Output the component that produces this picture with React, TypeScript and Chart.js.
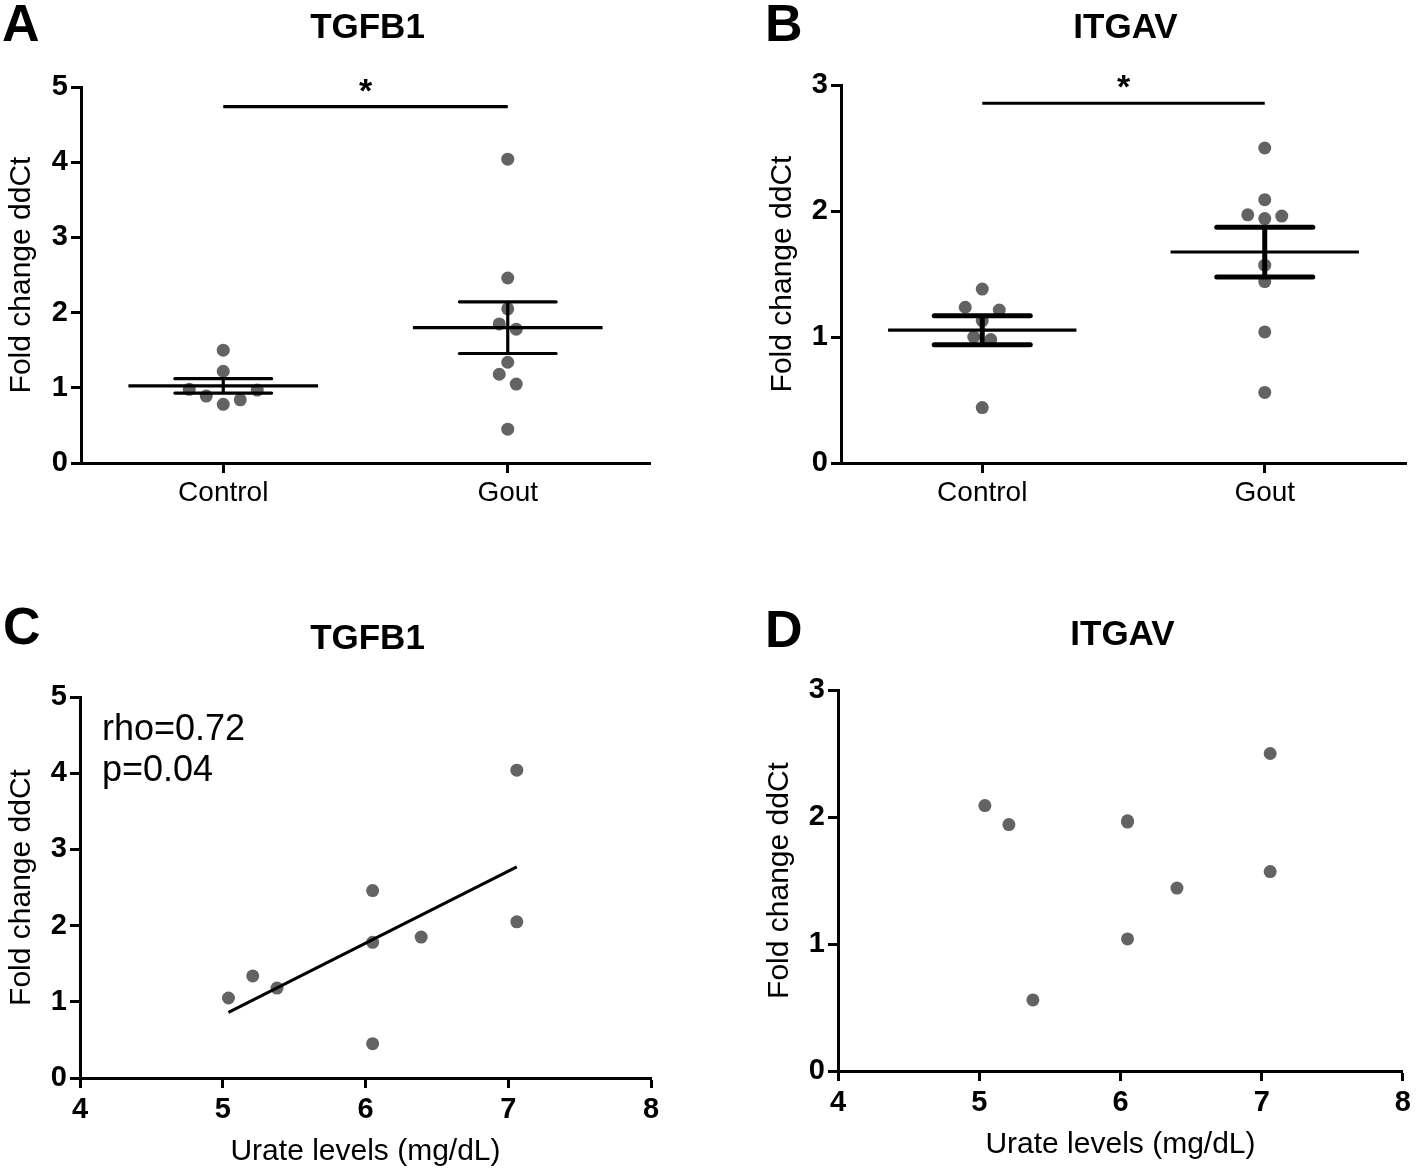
import React, { useEffect, useRef } from 'react';
import { Chart, registerables } from 'chart.js';

Chart.register(...registerables);

const FONT = '"Liberation Sans", Arial, Helvetica, sans-serif';
const TICK_FONT = '"Liberation Sans Narrow", "Liberation Sans", Arial, sans-serif';

// ---------------- data ----------------
const groupLabels = ['Control', 'Gout'];
const tgfb1Control = [1.5, 1.22, 0.98, 0.89, 0.78, 0.84, 0.97];
const tgfb1Gout = [4.04, 2.46, 2.05, 1.85, 1.78, 1.34, 1.18, 1.05, 0.45];
const itgavControl = [1.38, 1.236, 1.214, 1.13, 1.0, 0.98, 0.44];
const itgavGout = [2.5, 2.09, 1.97, 1.96, 1.94, 1.57, 1.44, 1.04, 0.56];
// urate level of each gout patient, in the same order as the gene values
const urateForTgfb1 = [7.06, 6.05, 7.06, 6.39, 6.05, 5.21, 5.38, 5.04, 6.05];
const urateForItgav = [7.06, 5.04, 6.05, 6.05, 5.21, 7.06, 6.4, 6.05, 5.38];
const tgfb1Ticks = [0, 1, 2, 3, 4, 5];
const itgavTicks = [0, 1, 2, 3];
const urateTicks = [4, 5, 6, 7, 8];
const significanceTgfb1 = 4.74;
const significanceItgav = 2.855;
const correlationText = ['rho=0.72', 'p=0.04'];
const yAxisTitle = 'Fold change ddCt';
const xAxisTitle = 'Urate levels (mg/dL)';

// ---------------- style constants ----------------
const W = 708;
const H = 585;
const DOT = '#636363';
const DOT_R = 6.5;
const SWARM_STEP = 17;
const SWARM_GROUP = 15.8;

const mean = (a: number[]) => a.reduce((s, v) => s + v, 0) / a.length;
const sem = (a: number[]) => {
  const m = mean(a);
  const v = a.reduce((s, x) => s + (x - m) * (x - m), 0) / (a.length - 1);
  return Math.sqrt(v / a.length);
};
const linearFit = (xs: number[], ys: number[]) => {
  const mx = mean(xs);
  const my = mean(ys);
  let sxy = 0;
  let sxx = 0;
  xs.forEach((x, i) => {
    sxy += (x - mx) * (ys[i] - my);
    sxx += (x - mx) * (x - mx);
  });
  const slope = sxy / sxx;
  return { slope, intercept: my - slope * mx };
};

type Panel = {
  key: string;
  kind: 'group' | 'corr';
  letter: string;
  letterX: number;
  letterY: number;
  title: string;
  titleY: number;
  pageX: number;
  pageY: number;
  area: { l: number; t: number; r: number; b: number };
  yTitleX: number;
  yTicks: number[];
  control?: number[];
  gout?: number[];
  sig?: number;
  capWidth?: number;
  urate?: number[];
  values?: number[];
  fit?: boolean;
  text?: string[];
  xTitlePad?: number;
};

const panels: Panel[] = [
  {
    key: 'A', kind: 'group', letter: 'A', letterX: 2, letterY: 41, title: 'TGFB1', titleY: 38,
    pageX: 0, pageY: 0, area: { l: 81, t: 87, r: 650, b: 463 }, yTitleX: 22, yTicks: tgfb1Ticks,
    control: tgfb1Control, gout: tgfb1Gout, sig: significanceTgfb1, capWidth: 3.2,
  },
  {
    key: 'B', kind: 'group', letter: 'B', letterX: 57, letterY: 41, title: 'ITGAV', titleY: 38,
    pageX: 708, pageY: 0, area: { l: 133, t: 85, r: 698, b: 463 }, yTitleX: 75, yTicks: itgavTicks,
    control: itgavControl, gout: itgavGout, sig: significanceItgav, capWidth: 5,
  },
  {
    key: 'C', kind: 'corr', letter: 'C', letterX: 3, letterY: 59, title: 'TGFB1', titleY: 64,
    pageX: 0, pageY: 585, area: { l: 80, t: 112, r: 651, b: 493 }, yTitleX: 22, yTicks: tgfb1Ticks,
    urate: urateForTgfb1, values: tgfb1Gout, fit: true, text: correlationText, xTitlePad: 0,
  },
  {
    key: 'D', kind: 'corr', letter: 'D', letterX: 57, letterY: 62, title: 'ITGAV', titleY: 60,
    pageX: 708, pageY: 585, area: { l: 130, t: 105, r: 699, b: 486 }, yTitleX: 72, yTicks: itgavTicks,
    urate: urateForItgav, values: itgavGout, fit: false, xTitlePad: 7,
  },
];

function buildConfig(p: Panel): any {
  const padLeft = p.yTitleX - 22;
  const yWidth = p.area.l - padLeft;
  const xHeight = H - p.area.b;
  const datasets: any[] = [];
  const dotStyle = { backgroundColor: DOT, borderWidth: 0, pointRadius: DOT_R, pointHoverRadius: DOT_R, order: 1 };
  if (p.kind === 'group') {
    datasets.push({ type: 'scatter', data: p.control!.map((v) => ({ x: 1, y: v })), ...dotStyle });
    datasets.push({ type: 'scatter', data: p.gout!.map((v) => ({ x: 2, y: v })), ...dotStyle });
  } else {
    datasets.push({
      type: 'scatter',
      data: p.values!.map((v, i) => ({ x: p.urate![i], y: v })),
      ...dotStyle,
    });
    if (p.fit) {
      const { slope, intercept } = linearFit(p.urate!, p.values!);
      const x0 = Math.min(...p.urate!);
      const x1 = Math.max(...p.urate!);
      datasets.push({
        type: 'line',
        data: [
          { x: x0, y: intercept + slope * x0 },
          { x: x1, y: intercept + slope * x1 },
        ],
        borderColor: '#000', borderWidth: 3, pointRadius: 0, fill: false, order: 0,
      });
    }
  }

  const grid = {
    display: true, drawOnChartArea: false, drawTicks: true, tickLength: 10, tickWidth: 3,
    tickColor: '#000', color: '#000',
  };
  const border = { display: true, color: '#000', width: 3 };
  const tickFont = { family: TICK_FONT, size: 29, weight: 'bold' };

  const xScale: any =
    p.kind === 'group'
      ? {
          type: 'linear', min: 0.5, max: 2.5, grid, border,
          afterBuildTicks: (s: any) => { s.ticks = groupLabels.map((_, i) => ({ value: i + 1 })); },
          afterFit: (s: any) => { s.height = xHeight; },
          ticks: {
            color: '#000', padding: 3, font: { family: FONT, size: 28 },
            callback: (v: any) => groupLabels[Math.round(v) - 1] ?? '',
          },
        }
      : {
          type: 'linear', min: urateTicks[0], max: urateTicks[urateTicks.length - 1], grid, border,
          afterBuildTicks: (s: any) => { s.ticks = urateTicks.map((v) => ({ value: v })); },
          afterFit: (s: any) => { s.height = xHeight; },
          ticks: { color: '#000', padding: 5, font: tickFont },
          title: {
            display: true, text: xAxisTitle, color: '#000',
            font: { family: FONT, size: 30 }, padding: { top: 0, bottom: p.xTitlePad },
          },
        };

  const yScale: any = {
    type: 'linear', min: p.yTicks[0], max: p.yTicks[p.yTicks.length - 1], grid, border,
    afterBuildTicks: (s: any) => { s.ticks = p.yTicks.map((v) => ({ value: v })); },
    afterFit: (s: any) => { s.width = yWidth; },
    ticks: { color: '#000', padding: 3, font: tickFont },
    title: {
      display: true, text: yAxisTitle, color: '#000',
      font: { family: FONT, size: 30 }, padding: { top: 4, bottom: 4 },
    },
  };

  const decorations = {
    id: 'decor' + p.key,
    afterDatasetsDraw(chart: any) {
      const ctx = chart.ctx;
      const xs = chart.scales.x;
      const ys = chart.scales.y;
      ctx.save();
      ctx.strokeStyle = '#000';
      ctx.fillStyle = '#000';
      if (p.kind === 'group') {
        const line = (x0: number, y0: number, x1: number, y1: number, w: number, cap: CanvasLineCap) => {
          ctx.beginPath();
          ctx.lineWidth = w;
          ctx.lineCap = cap;
          ctx.moveTo(x0, y0);
          ctx.lineTo(x1, y1);
          ctx.stroke();
        };
        [p.control!, p.gout!].forEach((vals, gi) => {
          const c = gi + 1;
          const m = mean(vals);
          const s = sem(vals);
          const cx = xs.getPixelForValue(c);
          const ml = xs.getPixelForValue(c - 1 / 3);
          const mr = xs.getPixelForValue(c + 1 / 3);
          const cl = xs.getPixelForValue(c - 0.17);
          const cr = xs.getPixelForValue(c + 0.17);
          const ym = ys.getPixelForValue(m);
          const yh = ys.getPixelForValue(m + s);
          const yl = ys.getPixelForValue(m - s);
          line(cx, yh, cx, yl, p.capWidth!, 'butt');
          line(ml, ym, mr, ym, 3.2, 'butt');
          line(cl, yh, cr, yh, p.capWidth!, 'round');
          line(cl, yl, cr, yl, p.capWidth!, 'round');
        });
        const sy = ys.getPixelForValue(p.sig!);
        const sx0 = xs.getPixelForValue(1);
        const sx1 = xs.getPixelForValue(2);
        line(sx0, sy, sx1, sy, 3.2, 'butt');
        ctx.font = `bold 34px ${FONT}`;
        ctx.textAlign = 'center';
        ctx.textBaseline = 'alphabetic';
        ctx.fillText('*', (sx0 + sx1) / 2, sy - 5);
      }
      ctx.restore();
    },
    afterDraw(chart: any) {
      const ctx = chart.ctx;
      const area = chart.chartArea;
      ctx.save();
      ctx.fillStyle = '#000';
      ctx.textBaseline = 'alphabetic';
      ctx.font = `bold 35px ${FONT}`;
      ctx.textAlign = 'center';
      ctx.fillText(p.title, (area.left + area.right) / 2 + 2, p.titleY);
      ctx.font = `bold 52px ${FONT}`;
      ctx.textAlign = 'left';
      ctx.fillText(p.letter, p.letterX, p.letterY);
      if (p.text) {
        ctx.font = `36px ${FONT}`;
        p.text.forEach((t, i) => ctx.fillText(t, area.left + 22, area.top + 43 + i * 41));
      }
      ctx.restore();
    },
  };

  return {
    type: 'scatter',
    data: { datasets },
    options: {
      responsive: false,
      animation: false,
      devicePixelRatio: 1,
      clip: false,
      layout: { padding: { left: padLeft, top: p.area.t, right: W - p.area.r, bottom: 0 } },
      plugins: { legend: { display: false }, tooltip: { enabled: false }, title: { display: false } },
      scales: { x: xScale, y: yScale },
    },
    plugins: [decorations],
  };
}

function swarmX(chart: any, values: number[], center: number): number[] {
  const xs = chart.scales.x;
  const ys = chart.scales.y;
  const order = values.map((_, i) => i).sort((a, b) => values[a] - values[b]);
  const result: number[] = new Array(values.length).fill(center);
  let group: number[] = [];
  let startPx = 0;
  const cx = xs.getPixelForValue(center);
  const flush = () => {
    const n = group.length;
    group.forEach((idx, k) => {
      let slot: number;
      if (n % 2 === 1) slot = k === 0 ? 0 : k % 2 === 1 ? (k + 1) / 2 : -k / 2;
      else slot = k % 2 === 0 ? k / 2 + 0.5 : -((k - 1) / 2 + 0.5);
      result[idx] = xs.getValueForPixel(cx + slot * SWARM_STEP);
    });
    group = [];
  };
  order.forEach((i) => {
    const py = ys.getPixelForValue(values[i]);
    if (group.length && Math.abs(startPx - py) > SWARM_GROUP) flush();
    if (!group.length) startPx = py;
    group.push(i);
  });
  flush();
  return result;
}

function PanelChart({ p }: { p: Panel }) {
  const ref = useRef<HTMLCanvasElement>(null);
  useEffect(() => {
    const chart = new Chart(ref.current as HTMLCanvasElement, buildConfig(p));
    if (p.kind === 'group') {
      const xc = swarmX(chart, p.control!, 1);
      const xg = swarmX(chart, p.gout!, 2);
      chart.data.datasets[0].data = p.control!.map((v, i) => ({ x: xc[i], y: v })) as any;
      chart.data.datasets[1].data = p.gout!.map((v, i) => ({ x: xg[i], y: v })) as any;
      chart.update();
    }
    return () => chart.destroy();
  }, []);
  return (
    <canvas
      ref={ref}
      width={W}
      height={H}
      style={{ position: 'absolute', left: p.pageX, top: p.pageY, width: W, height: H }}
    />
  );
}

export default function App() {
  return (
    <div style={{ position: 'absolute', left: 0, top: 0, width: 1416, height: 1170, background: '#fff' }}>
      {panels.map((p) => (
        <PanelChart key={p.key} p={p} />
      ))}
    </div>
  );
}
